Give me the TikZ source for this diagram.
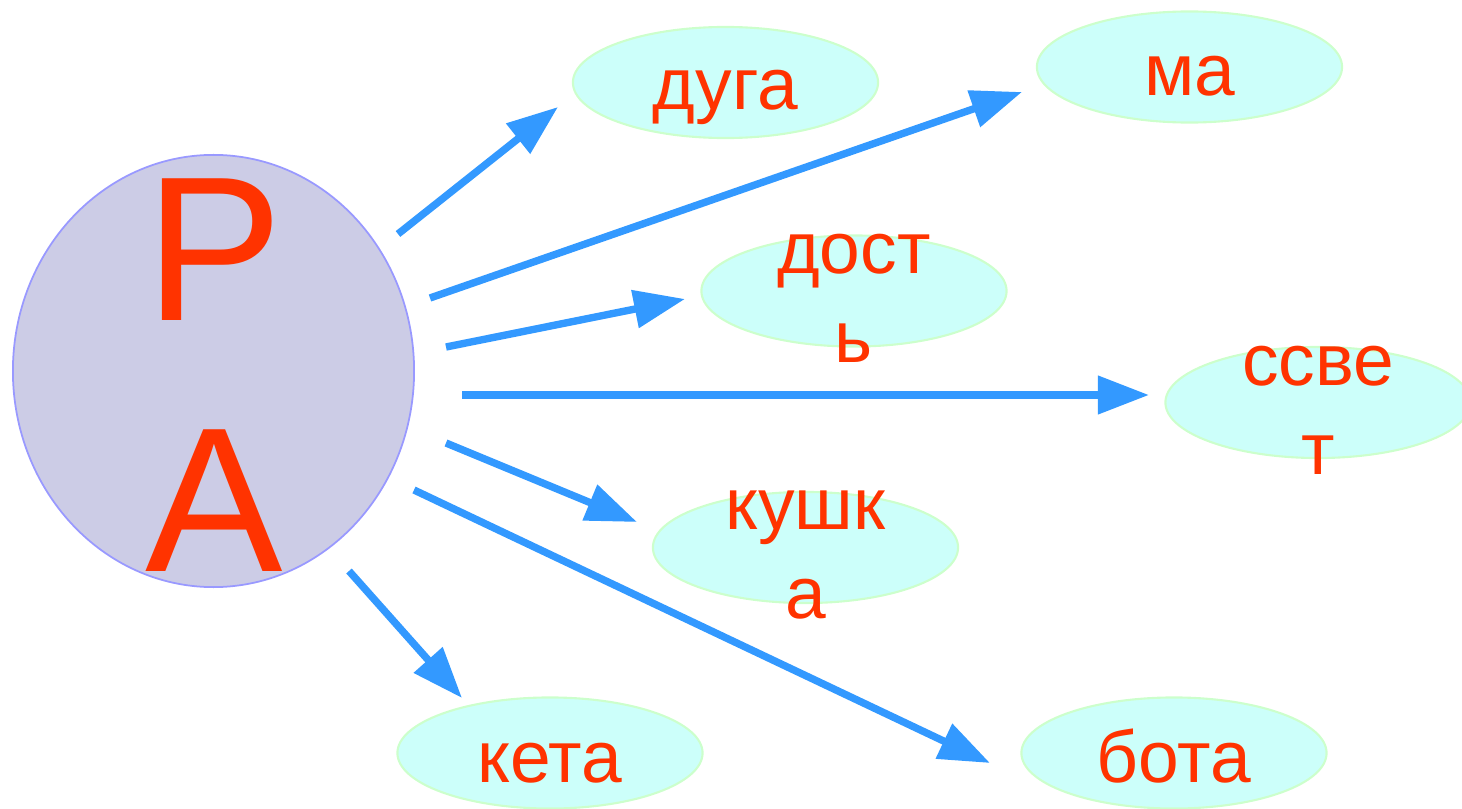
\documentclass[tikz,border=0pt]{standalone}
\usepackage{fontspec}
\setmainfont{Liberation Sans}
\usetikzlibrary{arrows.meta,shapes.geometric}
\definecolor{wordred}{HTML}{FF3300}
\definecolor{arrowblue}{HTML}{3399FF}
\definecolor{rootfill}{HTML}{CCCCE6}
\definecolor{rootline}{HTML}{9999FF}
\definecolor{leaffill}{HTML}{CCFFFA}
\definecolor{leafline}{HTML}{CCFFCC}
\tikzset{
  root/.style={ellipse, draw=rootline, fill=rootfill, line width=0.5pt,
    minimum width=4.01cm, minimum height=4.32cm, inner sep=0pt},
  leaf/.style={ellipse, draw=leafline, fill=leaffill, line width=0.6pt,
    minimum width=3.05cm, minimum height=1.11cm, inner sep=0pt},
  word/.style={text=wordred, align=center, inner sep=0pt,
    font=\fontsize{20.8}{25.2}\selectfont},
  bigword/.style={text=wordred, align=center, inner sep=0pt,
    font=\fontsize{58.6}{71.1}\selectfont},
  link/.style={-{Triangle[length=0.51cm,width=0.37cm]}, draw=arrowblue,
    fill=arrowblue, line width=2.1pt},
}
\begin{document}
\begin{tikzpicture}[x=0.01cm, y=-0.01cm]
  \useasboundingbox (0,0) rectangle (1462,809);

  % root
  \node[root] (ra) at (213.5,371) {};
  \node[bigword, anchor=base] (ra-txt) at (214,571) {Р\\А};

  % leaves
  \node[leaf] (duga) at (725.5,82.5) {};
  \node[leaf] (ma) at (1189.5,67) {};
  \node[leaf] (dost) at (854,291) {};
  \node[leaf] (svet) at (1318,402.5) {};
  \node[leaf] (kushka) at (805.5,547.5) {};
  \node[leaf] (keta) at (550,753) {};
  \node[leaf] (bota) at (1174,753) {};

  % texts (base = last line)
  \node[word, anchor=base] (duga-txt) at (725.5,110) {дуга};
  \node[word, anchor=base] (ma-txt) at (1189.5,95) {ма};
  \node[word, anchor=base] (dost-txt) at (854,362) {дост\\ь};
  \node[word, anchor=base] (svet-txt) at (1318,474) {ссве\\т};
  \node[word, anchor=base] (kushka-txt) at (805.5,618) {кушк\\а};
  \node[word, anchor=base] (keta-txt) at (550,782) {кета};
  \node[word, anchor=base] (bota-txt) at (1174,782) {бота};

  % arrows
  \coordinate (s1) at (398,234);  \coordinate (e1) at (558,107);
  \coordinate (s2) at (430,298);  \coordinate (e2) at (1022,92);
  \coordinate (s3) at (446,347);  \coordinate (e3) at (685,299);
  \coordinate (s4) at (462,395);  \coordinate (e4) at (1149,395);
  \coordinate (s5) at (446,443);  \coordinate (e5) at (637,522);
  \coordinate (s6) at (414,490);  \coordinate (e6) at (990,763);
  \coordinate (s7) at (349,571);  \coordinate (e7) at (462,698);
  \foreach \i in {1,...,7}
    \draw[link] (s\i) -- (e\i);
\end{tikzpicture}
\end{document}
